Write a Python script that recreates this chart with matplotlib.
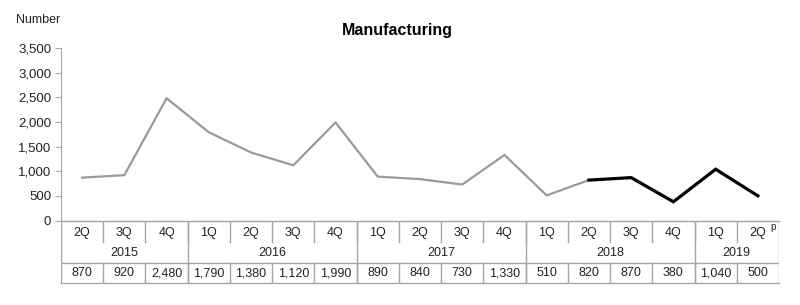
import matplotlib
matplotlib.use('Agg')
import matplotlib.pyplot as plt

plt.rcParams['font.family'] = ['Liberation Sans', 'DejaVu Sans']

QUARTERS = ['2Q', '3Q', '4Q',
            '1Q', '2Q', '3Q', '4Q',
            '1Q', '2Q', '3Q', '4Q',
            '1Q', '2Q', '3Q', '4Q',
            '1Q', '2Q']
YEARS = ['2015', '2016', '2017', '2018', '2019']
YEAR_SPANS = [3, 4, 4, 4, 2]
VALUES = [870, 920, 2480, 1790, 1380, 1120, 1990, 890, 840, 730, 1330,
          510, 820, 870, 380, 1040, 500]
SPLIT = 12  # index where the black (recent) segment starts

GRID = '#a6a6a6'
TEXT = '#222222'

fig = plt.figure(figsize=(8, 3.05), dpi=100)
ax = fig.add_axes([61 / 800, (305 - 220.5) / 305, 718 / 800, 172.5 / 305])
n = len(VALUES)
x = list(range(n))

ax.plot(x[:SPLIT + 1], VALUES[:SPLIT + 1], color='#9a9a9a', lw=1.6,
        solid_joinstyle='miter')
ax.plot(x[SPLIT:], VALUES[SPLIT:], color='black', lw=2.3,
        solid_joinstyle='miter')

ax.set_xlim(-0.5, n - 0.5)
ax.set_ylim(0, 3500)
ax.set_yticks(range(0, 3501, 500))
ax.set_yticklabels([f'{v:,}' for v in range(0, 3501, 500)], fontsize=9.5,
                   color=TEXT)
ax.set_xticks([])
ax.tick_params(axis='y', length=4, color=GRID, pad=3)
for s in ['top', 'right']:
    ax.spines[s].set_visible(False)
ax.spines['left'].set_color(GRID)
ax.spines['bottom'].set_color(GRID)

fig.text(397 / 800, 1 - 31 / 305, 'Manufacturing', ha='center', va='center',
         fontsize=11.5, fontweight='bold', color='black')
fig.text(16 / 800, 1 - 20 / 305, 'Number', ha='left', va='center',
         fontsize=9, color=TEXT)

# table under the chart, y measured in pixels from its top edge
tb = fig.add_axes([61 / 800, (305 - 283) / 305, 718 / 800, 62.5 / 305])
tb.set_xlim(-0.5, n - 0.5)
tb.set_ylim(62.5, 0)
tb.axis('off')

for i, q in enumerate(QUARTERS):
    tb.text(i, 12.5, q, ha='center', va='center', fontsize=9, color=TEXT)
    tb.text(i, 53, f'{VALUES[i]:,}', ha='center', va='center', fontsize=9,
            color=TEXT)
tb.text(n - 1 + 0.3, 6, 'p', ha='left', va='center', fontsize=7, color=TEXT)

# quarter separators (short) and value separators
for i in range(1, n):
    tb.plot([i - 0.5, i - 0.5], [0, 21], color=GRID, lw=1)
    tb.plot([i - 0.5, i - 0.5], [42.5, 62.5], color=GRID, lw=1)

# year separators and year labels
start = 0
for yr, span in zip(YEARS, YEAR_SPANS):
    tb.text(start + (span - 1) / 2, 32.5, yr, ha='center', va='center',
            fontsize=9, color=TEXT)
    start += span
    tb.plot([start - 0.5, start - 0.5], [0, 62.5], color=GRID, lw=1)
tb.plot([-0.5, -0.5], [0, 62.5], color=GRID, lw=1)

tb.plot([-0.5, n - 0.5], [42.5, 42.5], color=GRID, lw=1)
tb.plot([-0.5, n - 0.5], [62.5, 62.5], color=GRID, lw=1, clip_on=False)
tb.plot([-0.5, n - 0.5], [0, 0], color=GRID, lw=1, clip_on=False)

fig.savefig('out.png', dpi=100)
